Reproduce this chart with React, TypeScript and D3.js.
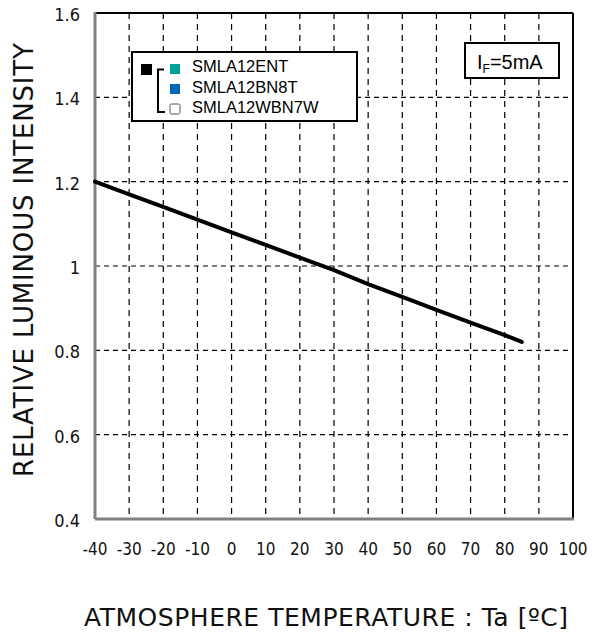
import React from 'react';
import * as d3 from 'd3';

// temperature (ºC) vs relative luminous intensity
const temps = [-40, -30, -20, -10, 0, 10, 20, 30, 40, 50, 60, 70, 80, 85];
const intensity = [1.2, 1.17, 1.14, 1.11, 1.08, 1.05, 1.02, 0.99, 0.957, 0.927, 0.896, 0.866, 0.836, 0.82];

const xTicks = [-40, -30, -20, -10, 0, 10, 20, 30, 40, 50, 60, 70, 80, 90, 100];
const yTicks = [0.4, 0.6, 0.8, 1, 1.2, 1.4, 1.6];

const legendNames = ['SMLA12ENT', 'SMLA12BN8T', 'SMLA12WBN7W'];
const legendColors = ['#00a29a', '#0068b7', '#ffffff'];

const width = 595;
const height = 635;
const margin = { top: 13, right: 22, bottom: 116, left: 95 };

export default function App() {
  const x = d3.scaleLinear().domain([-40, 100]).range([margin.left, width - margin.right]);
  const y = d3.scaleLinear().domain([0.4, 1.6]).range([height - margin.bottom, margin.top]);

  const line = d3.line<number>()
    .x((_, i) => x(temps[i]))
    .y(d => y(d));

  const x0 = x(-40), x1 = x(100), y0 = y(0.4), y1 = y(1.6);
  const sans = "'DejaVu Sans', Verdana, sans-serif";
  const cond = "'DejaVu Sans Condensed', sans-serif";
  const arial = "'Liberation Sans', Arial, sans-serif";

  return (
    <svg width={width} height={height} style={{ position: 'absolute', left: 0, top: 0, background: '#fff' }}>
      {/* grid */}
      {xTicks.slice(1, -1).map(t => (
        <line key={'gx' + t} x1={x(t)} x2={x(t)} y1={y1} y2={y0}
          stroke="#000" strokeWidth={1.2} strokeDasharray="6,5" />
      ))}
      {yTicks.slice(1, -1).map(t => (
        <line key={'gy' + t} x1={x0} x2={x1} y1={y(t)} y2={y(t)}
          stroke="#000" strokeWidth={1.2} strokeDasharray="5,4" />
      ))}

      {/* frame */}
      <line x1={x0} x2={x1} y1={y1} y2={y1} stroke="#000" strokeWidth={2} />
      <line x1={x1} x2={x1} y1={y1} y2={y0} stroke="#000" strokeWidth={2} />
      <line x1={x0} x2={x0} y1={y1 - 1} y2={y0} stroke="#808080" strokeWidth={3} />
      <line x1={x0} x2={x1 + 1} y1={y0} y2={y0} stroke="#808080" strokeWidth={3} />

      {/* curve */}
      <path d={line(intensity) || ''} fill="none" stroke="#000" strokeWidth={4} strokeLinecap="round" />

      {/* tick labels */}
      {yTicks.map(t => (
        <text key={'ty' + t} x={x0 - 15} y={y(t) + 8} textAnchor="end"
          fontFamily={cond} fontSize={18} fill="#111">
          {String(t)}
        </text>
      ))}
      {xTicks.map(t => (
        <text key={'tx' + t} x={x(t)} y={y0 + 36} textAnchor="middle"
          fontFamily={cond} fontSize={17} fill="#111">
          {String(t)}
        </text>
      ))}

      {/* axis titles */}
      <text x={326} y={626} textAnchor="middle" fontFamily={sans} fontSize={25}
        textLength={484} lengthAdjust="spacing" fill="#111">
        ATMOSPHERE TEMPERATURE : Ta [ºC]
      </text>
      <text transform="translate(33,260) rotate(-90)" textAnchor="middle" fontFamily={sans}
        fontSize={26} textLength={434} lengthAdjust="spacing" fill="#111">
        RELATIVE LUMINOUS INTENSITY
      </text>

      {/* legend */}
      <rect x={132} y={52} width={225} height={69} fill="#fff" stroke="#000" strokeWidth={2} />
      <rect x={141} y={64} width={11} height={11} fill="#000" />
      <path d="M164,69.5 H158 V112 H165" fill="none" stroke="#000" strokeWidth={2} />
      {legendNames.map((n, i) => (
        <g key={n}>
          <rect x={170} y={64 + i * 20} width={10} height={10}
            fill={legendColors[i]} stroke={i === 2 ? '#555' : 'none'} strokeWidth={1} rx={i === 2 ? 1.5 : 0} />
          <text x={192} y={72 + i * 20.5} fontFamily={arial} fontSize={16.5} fill="#000">{n}</text>
        </g>
      ))}

      {/* condition box */}
      <rect x={465} y={43} width={94} height={35} fill="#fff" stroke="#000" strokeWidth={2} />
      <text x={477} y={69} fontFamily={arial} fontSize={20} fill="#000">
        I<tspan fontSize={12} dy={4}>F</tspan><tspan dy={-4}>=5mA</tspan>
      </text>
    </svg>
  );
}
